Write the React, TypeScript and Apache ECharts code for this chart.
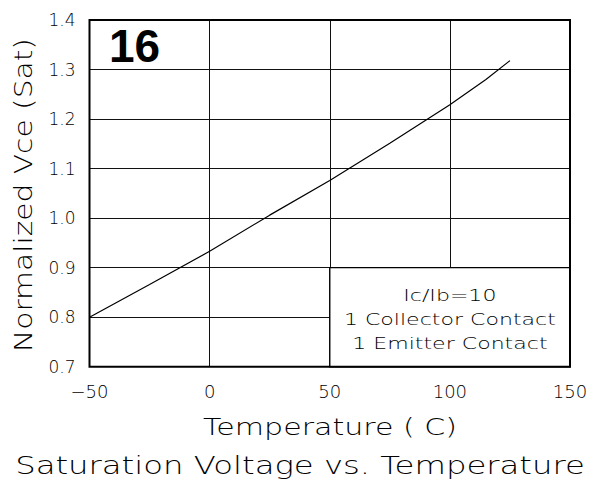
import React, { useEffect, useRef } from "react";
import * as echarts from "echarts";

// Normalized Vce(sat) versus junction temperature
const temperatures = [-50, -25, 0, 25, 50, 75, 100, 115, 125];
const normalizedVce = [0.8, 0.866, 0.933, 1.006, 1.076, 1.151, 1.229, 1.28, 1.318];

const xRange = [-50, 150];
const xStep = 50;
const yRange = [0.7, 1.4];
const yStep = 0.1;

const figureNumber = "16";
const noteLines = ["Ic/Ib=10", "1 Collector Contact", "1 Emitter Contact"];
const xName = "Temperature ( C)";
const yName = "Normalized Vce (Sat)";
const chartTitle = "Saturation Voltage vs. Temperature";

const FONT = '"DejaVu Sans", sans-serif';
const WEIGHT = 200;

function measure(text: string, size: number): number {
  const ctx = document.createElement("canvas").getContext("2d");
  if (!ctx) return text.length * size * 0.6;
  ctx.font = `${WEIGHT} ${size}px "DejaVu Sans"`;
  return ctx.measureText(text).width;
}

// Text drawn wide, stretched horizontally to a given span
function wideText(text: string, size: number, span: number, x: number, y: number, rotation = 0) {
  const sx = span / measure(text, size);
  return {
    type: "text",
    x,
    y,
    rotation,
    scaleX: sx,
    z: 20,
    silent: true,
    style: {
      text,
      font: `${WEIGHT} ${size}px ${FONT}`,
      fill: "#000",
      align: "center",
      verticalAlign: "middle",
    },
  };
}

export default function App() {
  const ref = useRef<HTMLDivElement>(null);

  useEffect(() => {
    if (!ref.current) return;
    const chart = echarts.init(ref.current, null, { renderer: "svg" });

    chart.setOption({
      animation: false,
      backgroundColor: "#fff",
      grid: { left: 89.5, right: 25, top: 20, bottom: 115.3, show: false },
      xAxis: {
        type: "value",
        min: xRange[0],
        max: xRange[1],
        interval: xStep,
        axisLine: { show: false },
        axisTick: { show: false },
        splitLine: { show: true, lineStyle: { color: "#111", width: 1 } },
        axisLabel: {
          color: "#000",
          fontFamily: FONT,
          fontWeight: WEIGHT,
          fontSize: 18,
          margin: 16,
          formatter: (v: number) => String(v).replace("-", "\u2212"),
        },
      },
      yAxis: {
        type: "value",
        min: yRange[0],
        max: yRange[1],
        interval: yStep,
        axisLine: { show: false },
        axisTick: { show: false },
        splitLine: { show: true, lineStyle: { color: "#111", width: 1 } },
        axisLabel: {
          color: "#000",
          fontFamily: FONT,
          fontWeight: WEIGHT,
          fontSize: 17,
          margin: 14,
          formatter: (v: number) => v.toFixed(1),
        },
      },
      series: [
        {
          type: "line",
          data: temperatures.map((t, i) => [t, normalizedVce[i]]),
          showSymbol: false,
          symbol: "none",
          lineStyle: { color: "#000", width: 1.2 },
          z: 5,
          markArea: {
            silent: true,
            label: { show: false },
            itemStyle: { color: "#fff", opacity: 1, borderColor: "#000", borderWidth: 1.4 },
            data: [[{ coord: [50, 0.7] }, { coord: [150, 0.9] }]],
          },
        },
      ],
    });

    const toPx = (p: number[]) => chart.convertToPixel({ gridIndex: 0 }, p) as number[];
    const [x0, y0] = toPx([xRange[0], yRange[0]]);
    const [x1, y1] = toPx([xRange[1], yRange[1]]);
    const [nx, ny] = toPx([100, 0.8]);

    const noteScale = 212 / measure(noteLines[1], 16);
    const noteOffsets = [-22, 2, 26];

    chart.setOption({
      graphic: [
        {
          type: "rect",
          z: 30,
          silent: true,
          shape: { x: x0, y: y1, width: x1 - x0, height: y0 - y1 },
          style: { fill: "none", stroke: "#000", lineWidth: 2 },
        },
        {
          type: "text",
          x: 109,
          y: 46,
          z: 20,
          silent: true,
          style: {
            text: figureNumber,
            font: `bold 46px "Liberation Sans", Arial, sans-serif`,
            fill: "#000",
            align: "left",
            verticalAlign: "middle",
          },
        },
        ...noteLines.map((line, i) => ({
          type: "text",
          x: nx,
          y: ny + noteOffsets[i],
          scaleX: noteScale,
          z: 20,
          silent: true,
          style: {
            text: line,
            font: `${WEIGHT} 16px ${FONT}`,
            fill: "#000",
            align: "center",
            verticalAlign: "middle",
          },
        })),
        wideText(xName, 23, 254, 330, 427),
        wideText(yName, 24, 314, 24, 195, Math.PI / 2),
        wideText(chartTitle, 24, 570, 300, 466),
      ],
    });

    return () => chart.dispose();
  }, []);

  return (
    <div
      ref={ref}
      style={{ position: "absolute", left: 0, top: 0, width: 595, height: 482, background: "#fff" }}
    />
  );
}
